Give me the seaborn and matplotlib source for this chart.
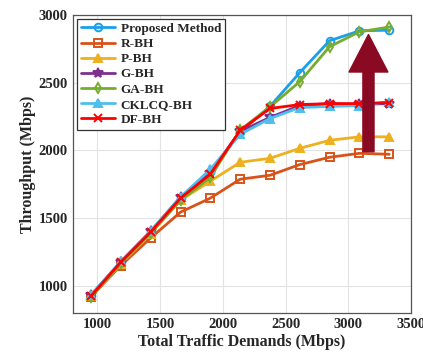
import matplotlib
matplotlib.use("Agg")
import matplotlib.pyplot as plt
import seaborn as sns
import numpy as np
import pandas as pd

demand = [950, 1188, 1425, 1663, 1900, 2138, 2375, 2613, 2850, 3088, 3325]

proposed = [928, 1176, 1400, 1648, 1840, 2135, 2324, 2574, 2809, 2882, 2887]
r_bh     = [920, 1150, 1353, 1544, 1647, 1787, 1816, 1895, 1949, 1978, 1971]
p_bh     = [922, 1160, 1385, 1632, 1772, 1912, 1941, 2015, 2074, 2100, 2100]
g_bh     = [930, 1178, 1402, 1655, 1835, 2140, 2243, 2330, 2345, 2340, 2345]
ga_bh    = [918, 1165, 1390, 1630, 1800, 2150, 2320, 2507, 2765, 2875, 2910]
cklcq    = [935, 1180, 1405, 1655, 1860, 2118, 2235, 2316, 2324, 2330, 2360]
df_bh    = [925, 1176, 1397, 1647, 1824, 2147, 2309, 2338, 2345, 2345, 2353]

series = ["Proposed Method", "R-BH", "P-BH", "G-BH", "GA-BH", "CKLCQ-BH", "DF-BH"]
values = [proposed, r_bh, p_bh, g_bh, ga_bh, cklcq, df_bh]

colors = ["#1AA0EA", "#D95319", "#EDB120", "#7E2F8E", "#77AC30", "#4DBEEE", "#FF0000"]
markers = ["o", "s", "^", "*", "d", "^", "x"]
mfc = ["none", "none", None, None, "none", None, None]

sns.set_theme(style="whitegrid")
plt.rcParams['font.family'] = ['Liberation Serif', 'DejaVu Serif']
plt.rcParams['font.weight'] = 'bold'

fig = plt.figure(figsize=(4.23, 3.54), dpi=100)
ax = fig.add_axes([0.173, 0.116, 0.799, 0.842])

for name, vals, c, m, f in zip(series, values, colors, markers, mfc):
    d = pd.DataFrame({"x": demand, "y": vals})
    kw = dict(marker=m, markersize=5.5, markeredgewidth=1.4, markeredgecolor=c)
    if f == "none":
        kw["markerfacecolor"] = "none"
    else:
        kw["markerfacecolor"] = c
    if m == "*":
        kw["markersize"] = 7.5
    sns.lineplot(data=d, x="x", y="y", ax=ax, color=c, linewidth=2.0, label=name, **kw)

# arrow
ax.annotate("", xy=(3160, 2855), xytext=(3160, 1990),
            arrowprops=dict(facecolor="#8B0A23", edgecolor="#8B0A23",
                            width=8, headwidth=28, headlength=27, shrink=0))

ax.set_xlim(808, 3500)
ax.set_ylim(800, 3000)
ax.set_xticks([1000, 1500, 2000, 2500, 3000, 3500])
ax.set_yticks([1000, 1500, 2000, 2500, 3000])
ax.set_xlabel("Total Traffic Demands (Mbps)", fontsize=11.5, fontweight="bold", labelpad=2)
ax.set_ylabel("Throughput (Mbps)", fontsize=11.5, fontweight="bold", labelpad=2)
ax.tick_params(axis="both", labelsize=10.5, length=0, pad=4)
for lab in ax.get_xticklabels() + ax.get_yticklabels():
    lab.set_fontweight("bold")
ax.grid(True, color="#E3E3E3", linewidth=0.8)
for s in ax.spines.values():
    s.set_color("#555555")
    s.set_linewidth(0.9)
    s.set_visible(True)

leg = ax.legend(loc="upper left", fontsize=9.5, frameon=True, fancybox=False,
                borderpad=0.3, labelspacing=0.22, handlelength=2.6,
                handletextpad=0.4, borderaxespad=0.3)
leg.get_frame().set_edgecolor("#333333")
leg.get_frame().set_linewidth(0.9)
leg.get_frame().set_alpha(1)
for t in leg.get_texts():
    t.set_fontweight("bold")

fig.savefig("out.png", dpi=100)
